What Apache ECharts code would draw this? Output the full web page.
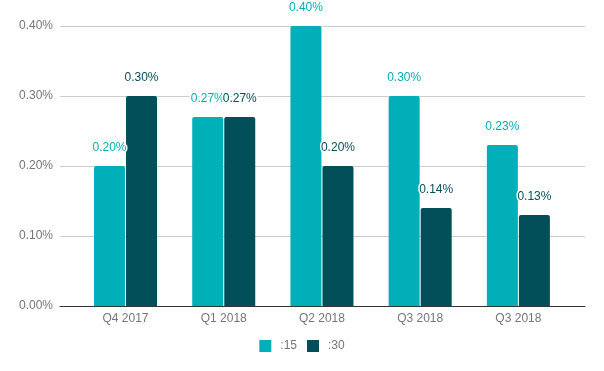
<!DOCTYPE html>
<html><head><meta charset="utf-8">
<script src="https://cdn.jsdelivr.net/npm/echarts@6/dist/echarts.min.js"></script>
<style>html,body{margin:0;padding:0;background:#fff}#c{width:604px;height:371px}</style>
</head><body><div id="c"></div>
<script>
var categories = ['Q4 2017', 'Q1 2018', 'Q2 2018', 'Q3 2018', 'Q3 2018'];
var seriesNames = [':15', ':30'];
var values15 = [0.20, 0.27, 0.40, 0.30, 0.23];
var values30 = [0.30, 0.27, 0.20, 0.14, 0.13];
var yTicks = [0, 0.1, 0.2, 0.3, 0.4];
var colors = ['#00afb8', '#024f59'];

var font = 'Liberation Sans, Arial, sans-serif';
var chart = echarts.init(document.getElementById('c'), null, {renderer: 'canvas'});
function lbl(color) {
  return {
    show: true, position: 'top', distance: 12, color: color, fontSize: 12, fontFamily: font,
    textBorderColor: '#fff', textBorderWidth: 3,
    formatter: function (p) { return p.value.toFixed(2) + '%'; }
  };
}
chart.setOption({
  animation: false,
  grid: [
    {left: 60, right: 19, top: 26, bottom: 65},
    {left: 76.4, right: 36.5, top: 26, bottom: 65}
  ],
  legend: {
    bottom: 14, left: 'center', itemWidth: 12, itemHeight: 12, itemGap: 10,
    icon: 'rect',
    textStyle: {color: '#757575', fontSize: 12, fontFamily: font, padding: [0, 0, 0, 4]},
    data: seriesNames
  },
  xAxis: [
    {gridIndex: 0, type: 'category', data: [''], axisLine: {lineStyle: {color: '#333', width: 1}},
     axisTick: {show: false}, axisLabel: {show: false}, splitLine: {show: false}},
    {gridIndex: 1, type: 'category', data: categories, axisLine: {show: false},
     axisTick: {show: false}, axisLabel: {color: '#757575', fontSize: 12, fontFamily: font, margin: 7}}
  ],
  yAxis: [
    {gridIndex: 0, type: 'value', min: yTicks[0], max: yTicks[yTicks.length - 1], interval: 0.1,
     axisLine: {show: false}, axisTick: {show: false},
     axisLabel: {color: '#757575', fontSize: 12, fontFamily: font, margin: 7,
       formatter: function (v) { return v.toFixed(2) + '%'; }},
     splitLine: {lineStyle: {color: '#cccccc', width: 1}}},
    {gridIndex: 1, type: 'value', min: yTicks[0], max: yTicks[yTicks.length - 1], show: false}
  ],
  series: [
    {name: seriesNames[0], type: 'bar', xAxisIndex: 1, yAxisIndex: 1, data: values15,
     barWidth: 31, barGap: '3.3%', itemStyle: {color: colors[0], borderRadius: [2, 2, 0, 0]},
     label: lbl(colors[0]), z: 3},
    {name: seriesNames[1], type: 'bar', xAxisIndex: 1, yAxisIndex: 1, data: values30,
     barWidth: 31, barGap: '3.3%', itemStyle: {color: colors[1], borderRadius: [2, 2, 0, 0]},
     label: lbl(colors[1]), z: 3}
  ]
});
</script></body></html>
